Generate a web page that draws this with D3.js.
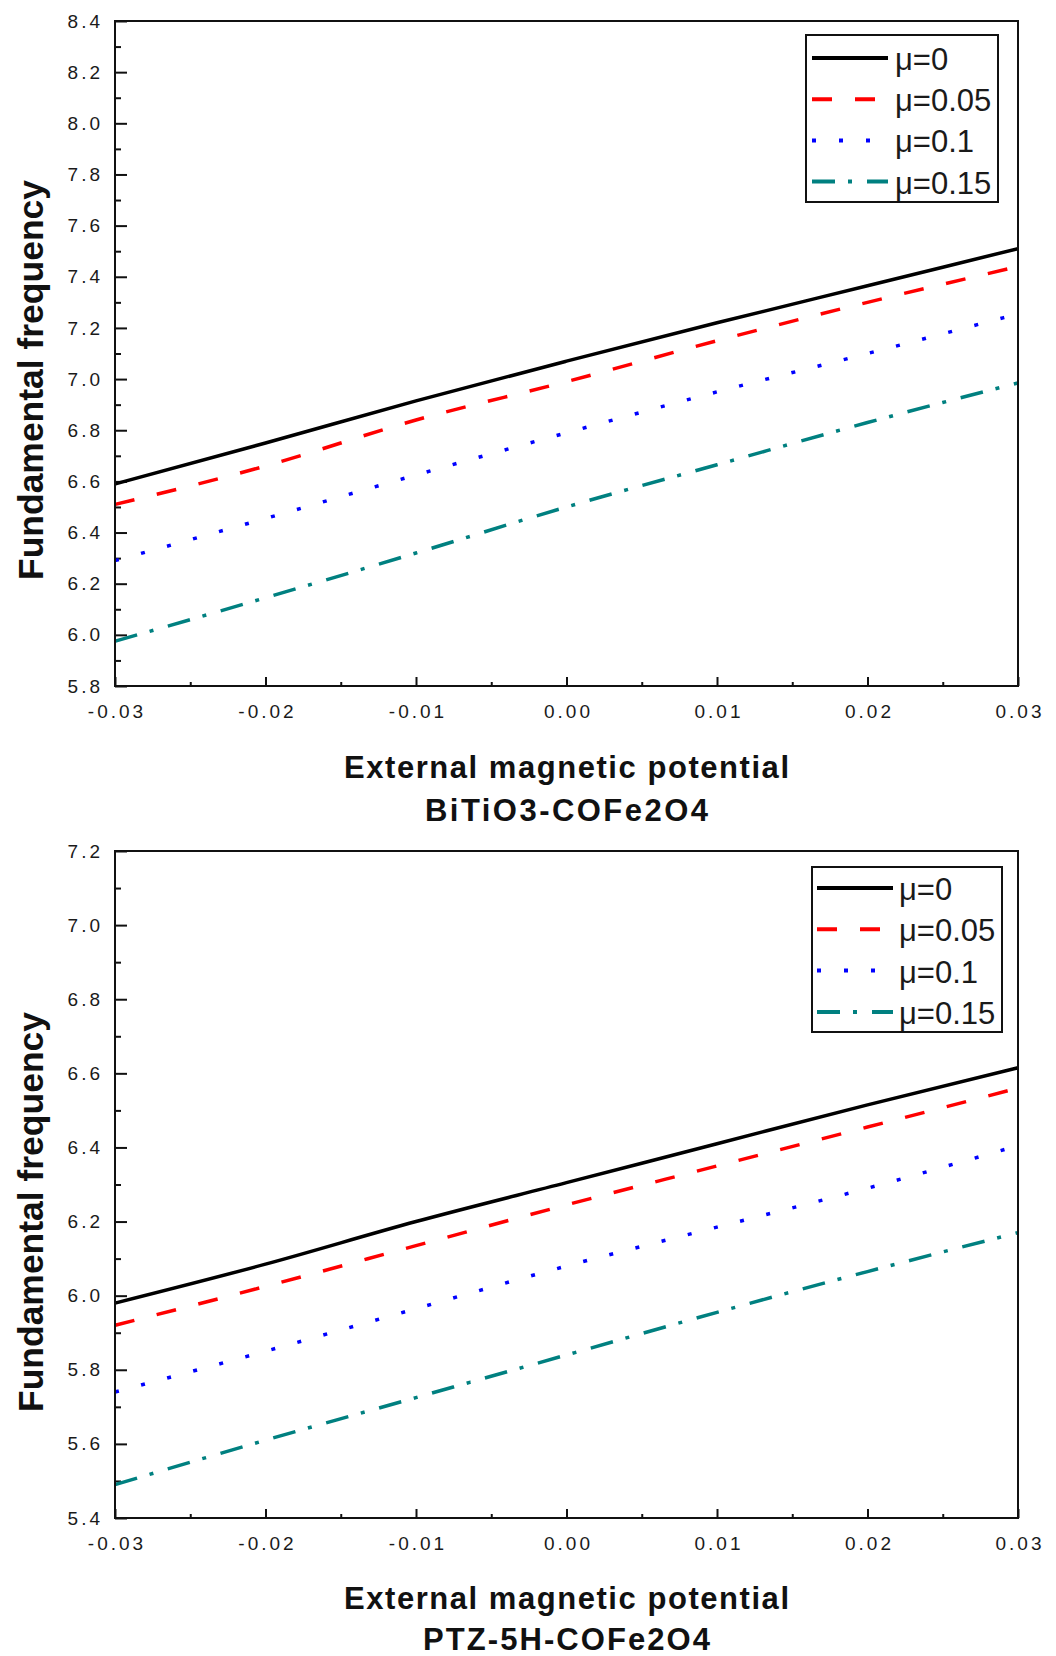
<!DOCTYPE html>
<html>
<head>
<meta charset="utf-8">
<script src="https://cdn.jsdelivr.net/npm/d3@7"></script>
<style>
  body { margin: 0; background: #fff; }
  svg { display: block; }
</style>
</head>
<body>
<div id="chart"></div>
<script>
// x values (external magnetic potential)
var xValues = [-0.03, -0.02, -0.01, 0.00, 0.01, 0.02, 0.03];
var xTicks = [-0.03, -0.02, -0.01, 0.00, 0.01, 0.02, 0.03];
var xTickLabels = ['-0.03', '-0.02', '-0.01', '0.00', '0.01', '0.02', '0.03'];
var seriesLabels = ['\u03bc=0', '\u03bc=0.05', '\u03bc=0.1', '\u03bc=0.15'];

// BiTiO3-COFe2O4
var bitioMu0 = [6.59, 6.75, 6.915, 7.07, 7.22, 7.365, 7.51];
var bitioMu005 = [6.51, 6.66, 6.84, 6.99, 7.15, 7.30, 7.44];
var bitioMu01 = [6.29, 6.455, 6.625, 6.79, 6.95, 7.10, 7.255];
var bitioMu015 = [5.975, 6.145, 6.32, 6.50, 6.665, 6.83, 6.985];
var bitioYTicks = [5.8, 6.0, 6.2, 6.4, 6.6, 6.8, 7.0, 7.2, 7.4, 7.6, 7.8, 8.0, 8.2, 8.4];

// PTZ-5H-COFe2O4
var ptzMu0 = [5.98, 6.085, 6.20, 6.305, 6.41, 6.515, 6.615];
var ptzMu005 = [5.92, 6.025, 6.135, 6.245, 6.35, 6.455, 6.56];
var ptzMu01 = [5.74, 5.85, 5.965, 6.08, 6.185, 6.29, 6.405];
var ptzMu015 = [5.49, 5.61, 5.725, 5.84, 5.955, 6.065, 6.17];
var ptzYTicks = [5.4, 5.6, 5.8, 6.0, 6.2, 6.4, 6.6, 6.8, 7.0, 7.2];

var lineStyles = [
  {color: '#000000', dash: null, width: 3.5},
  {color: '#ff0000', dash: '20,23', width: 3.5},
  {color: '#0000ff', dash: '4,23', width: 3.5},
  {color: '#008080', dash: '23,13,4,15', width: 3.5}
];

var svg = d3.select('#chart').append('svg')
  .attr('width', 1056)
  .attr('height', 1656);

var drawPanel = function(p){
  var x = d3.scaleLinear().domain([-0.03, 0.03]).range([p.left, p.right]);
  var y = d3.scaleLinear().domain([p.yTicks[0], p.yTicks[p.yTicks.length - 1]]).range([p.bottom, p.top]);

  var g = svg.append('g');

  // minor ticks
  var yMinor = [];
  for (var i = 0; i < p.yTicks.length - 1; i++){
    yMinor.push((p.yTicks[i] + p.yTicks[i + 1]) / 2);
  }
  var xMinor = [];
  for (var j = 0; j < xTicks.length - 1; j++){
    xMinor.push((xTicks[j] + xTicks[j + 1]) / 2);
  }

  g.append('g')
    .attr('transform', 'translate(' + p.left + ',0)')
    .call(d3.axisLeft(y).tickValues(yMinor).tickSize(-6).tickFormat(''))
    .call(function(a){ a.select('.domain').remove(); });

  g.append('g')
    .attr('class', 'yaxis')
    .attr('transform', 'translate(' + p.left + ',0)')
    .call(d3.axisLeft(y).tickValues(p.yTicks).tickSize(-12).tickPadding(12).tickFormat(d3.format('.1f')))
    .call(function(a){ a.select('.domain').remove(); });

  g.append('g')
    .attr('transform', 'translate(0,' + p.bottom + ')')
    .call(d3.axisBottom(x).tickValues(xMinor).tickSize(-4).tickFormat(''))
    .call(function(a){ a.select('.domain').remove(); });

  g.append('g')
    .attr('class', 'xaxis')
    .attr('transform', 'translate(0,' + p.bottom + ')')
    .call(d3.axisBottom(x).tickValues(xTicks).tickSize(-9).tickPadding(19)
      .tickFormat(function(d, i){ return xTickLabels[i]; }))
    .call(function(a){ a.select('.domain').remove(); });

  g.selectAll('.tick line').attr('stroke', '#111').attr('stroke-width', 2);
  g.selectAll('.tick text')
    .attr('fill', '#1a1a1a')
    .style('font-family', '"Liberation Sans", Arial, sans-serif')
    .style('font-size', '19px')
    .style('letter-spacing', '3px');
  g.selectAll('.xaxis .tick text').attr('dx', 1.5);

  // series
  var line = d3.line()
    .x(function(d, i){ return x(xValues[i]); })
    .y(function(d){ return y(d); })
    .curve(d3.curveMonotoneX);

  g.selectAll('path.series')
    .data(p.series)
    .enter()
    .append('path')
    .attr('class', 'series')
    .attr('d', function(d){ return line(d); })
    .attr('fill', 'none')
    .attr('stroke', function(d, i){ return lineStyles[i].color; })
    .attr('stroke-width', function(d, i){ return lineStyles[i].width; })
    .attr('stroke-dasharray', function(d, i){ return lineStyles[i].dash; });

  // frame
  g.append('rect')
    .attr('x', p.left)
    .attr('y', p.top)
    .attr('width', p.right - p.left)
    .attr('height', p.bottom - p.top)
    .attr('fill', 'none')
    .attr('stroke', '#111')
    .attr('stroke-width', 2);

  // legend
  var lg = g.append('g');
  lg.append('rect')
    .attr('x', p.legend.x)
    .attr('y', p.legend.y)
    .attr('width', p.legend.w)
    .attr('height', p.legend.h)
    .attr('fill', '#fff')
    .attr('stroke', '#111')
    .attr('stroke-width', 2);

  var rows = lg.selectAll('g.row')
    .data(seriesLabels)
    .enter()
    .append('g')
    .attr('class', 'row')
    .attr('transform', function(d, i){ return 'translate(0,' + (p.legend.row0 + i * p.legend.step) + ')'; });

  rows.append('line')
    .attr('x1', p.legend.lineX1)
    .attr('x2', p.legend.lineX2)
    .attr('y1', 0)
    .attr('y2', 0)
    .attr('stroke', function(d, i){ return lineStyles[i].color; })
    .attr('stroke-width', 4)
    .attr('stroke-dasharray', function(d, i){ return lineStyles[i].dash; });

  rows.append('text')
    .attr('x', p.legend.textX)
    .attr('y', 12)
    .attr('fill', '#1a1a1a')
    .style('font-family', '"Liberation Sans", Arial, sans-serif')
    .style('font-size', '31px')
    .text(function(d){ return d; });

  // axis titles
  g.append('text')
    .attr('transform', 'translate(43,' + p.yTitleY + ') rotate(-90)')
    .attr('text-anchor', 'middle')
    .attr('textLength', 400)
    .attr('lengthAdjust', 'spacingAndGlyphs')
    .attr('fill', '#111')
    .style('font-family', '"Liberation Sans", Arial, sans-serif')
    .style('font-weight', 'bold')
    .style('font-size', '35px')
    .text('Fundamental frequency');

  var cx = (p.left + p.right) / 2;
  g.append('text')
    .attr('x', cx)
    .attr('y', p.xTitleY1)
    .attr('text-anchor', 'middle')
    .attr('textLength', 445)
    .attr('lengthAdjust', 'spacing')
    .attr('fill', '#111')
    .style('font-family', '"Liberation Sans", Arial, sans-serif')
    .style('font-weight', 'bold')
    .style('font-size', '31px')
    .text('External magnetic potential');

  g.append('text')
    .attr('x', cx)
    .attr('y', p.xTitleY2)
    .attr('text-anchor', 'middle')
    .attr('textLength', p.subtitleLength)
    .attr('lengthAdjust', 'spacing')
    .attr('fill', '#111')
    .style('font-family', '"Liberation Sans", Arial, sans-serif')
    .style('font-weight', 'bold')
    .style('font-size', '31px')
    .text(p.subtitle);
};

drawPanel({
  left: 115, right: 1018, top: 21, bottom: 686,
  yTicks: bitioYTicks,
  series: [bitioMu0, bitioMu005, bitioMu01, bitioMu015],
  legend: {x: 806, y: 35, w: 192, h: 167, row0: 58, step: 41.2, lineX1: 812, lineX2: 888, textX: 895},
  yTitleY: 380,
  xTitleY1: 778, xTitleY2: 821,
  subtitle: 'BiTiO3-COFe2O4', subtitleLength: 283
});

drawPanel({
  left: 115, right: 1018, top: 851, bottom: 1518,
  yTicks: ptzYTicks,
  series: [ptzMu0, ptzMu005, ptzMu01, ptzMu015],
  legend: {x: 812, y: 867, w: 190, h: 165, row0: 888, step: 41.3, lineX1: 817, lineX2: 893, textX: 899},
  yTitleY: 1212,
  xTitleY1: 1609, xTitleY2: 1650,
  subtitle: 'PTZ-5H-COFe2O4', subtitleLength: 287
});
</script>
</body>
</html>
